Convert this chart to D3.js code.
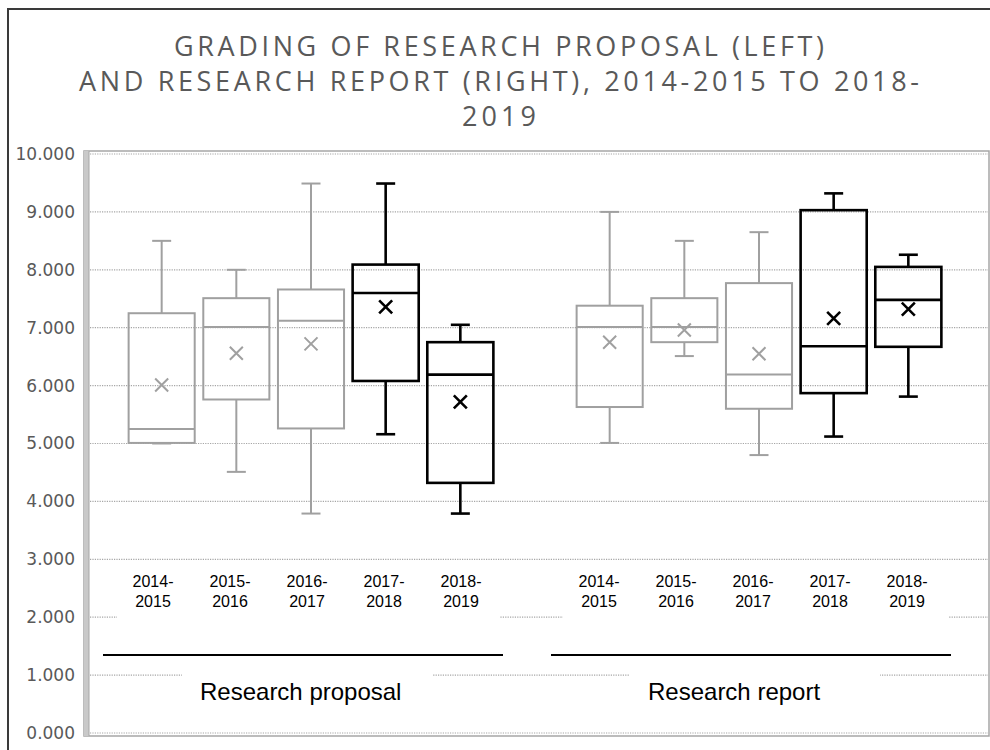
<!DOCTYPE html>
<html lang="en">
<head>
<meta charset="UTF-8">
<script src="https://d3js.org/d3.v7.min.js"></script>
<style>
body{
	margin: 0;
	background-color: white;
}
</style>
</head>
<body>
<svg width="990" height="750"></svg>
<script>
// ---- data ----
const years = ["2014-2015", "2015-2016", "2016-2017", "2017-2018", "2018-2019"];
const groups = ["Research proposal", "Research report"];
const highlighted = ["2017-2018", "2018-2019"];

const proposalMin    = [5.00, 4.51, 3.79, 5.16, 3.79];
const proposalQ1     = [5.01, 5.76, 5.26, 6.08, 4.32];
const proposalMedian = [5.25, 7.01, 7.12, 7.60, 6.19];
const proposalQ3     = [7.25, 7.51, 7.66, 8.09, 6.75];
const proposalMax    = [8.50, 8.00, 9.49, 9.49, 7.05];
const proposalMean   = [6.01, 6.56, 6.72, 7.36, 5.72];

const reportMin    = [5.01, 6.51, 4.80, 5.12, 5.81];
const reportQ1     = [5.63, 6.75, 5.60, 5.87, 6.67];
const reportMedian = [7.01, 7.01, 6.19, 6.68, 7.48];
const reportQ3     = [7.38, 7.51, 7.77, 9.03, 8.05];
const reportMax    = [9.00, 8.50, 8.65, 9.32, 8.26];
const reportMean   = [6.75, 6.96, 6.55, 7.16, 7.32];

const yTicks = [0, 1, 2, 3, 4, 5, 6, 7, 8, 9, 10];
const titleLines = ["GRADING OF RESEARCH PROPOSAL (LEFT)", "AND RESEARCH REPORT (RIGHT), 2014-2015 TO 2018-", "2019"];
const titleWidths = [650, 840, 74];

// build one row per box
let boxes = [];
years.forEach(function(yr, i) {
	boxes.push({key: "P|" + yr, year: yr, min: proposalMin[i], q1: proposalQ1[i], med: proposalMedian[i], q3: proposalQ3[i], max: proposalMax[i], mean: proposalMean[i]});
});
years.forEach(function(yr, i) {
	boxes.push({key: "R|" + yr, year: yr, min: reportMin[i], q1: reportQ1[i], med: reportMedian[i], q3: reportQ3[i], max: reportMax[i], mean: reportMean[i]});
});

const svg = d3.select("svg");

// outer chart border
svg.append("rect")
	.attr("x", 8).attr("y", 9)
	.attr("width", 1000).attr("height", 800)
	.attr("fill", "white")
	.attr("stroke", "#3a3a3a")
	.attr("stroke-width", 2);

// title
svg.append("g").selectAll("text")
	.data(titleLines)
	.join("text")
	.attr("x", 499)
	.attr("y", function(d, i) { return 56 + i * 35; })
	.attr("text-anchor", "middle")
	.attr("font-family", "'Open Sans', sans-serif")
	.attr("font-size", "27px")
	.attr("textLength", function(d, i) { return titleWidths[i]; })
	.attr("lengthAdjust", "spacing")
	.attr("fill", "#595959")
	.text(function(d) { return d; });

const plot = {left: 84, right: 989, top: 151, bottom: 736};

const domain = boxes.slice(0, 5).map(function(d) { return d.key; })
	.concat(["gap"])
	.concat(boxes.slice(5).map(function(d) { return d.key; }));

const x = d3.scalePoint()
	.domain(domain)
	.range([87, 983])
	.padding(1);

const y = d3.scaleLinear()
	.domain([0, 10])
	.range([733, 154]);

const boxW = x.step() * 0.885;
const capW = 19;

// plot frame
svg.append("rect")
	.attr("x", plot.left).attr("y", plot.top)
	.attr("width", plot.right - plot.left).attr("height", plot.bottom - plot.top)
	.attr("fill", "white")
	.attr("stroke", "#a6a6a6")
	.attr("stroke-width", 1.5);
svg.append("rect")
	.attr("x", plot.left).attr("y", plot.top)
	.attr("width", 5).attr("height", plot.bottom - plot.top)
	.attr("fill", "#c9c9c9");
svg.append("line")
	.attr("x1", plot.left + 5).attr("x2", plot.left + 5)
	.attr("y1", plot.top).attr("y2", plot.bottom)
	.attr("stroke", "#a6a6a6").attr("stroke-width", 1);

// gridlines
svg.append("g").selectAll("line")
	.data(yTicks)
	.join("line")
	.attr("x1", plot.left + 6).attr("x2", plot.right - 1)
	.attr("y1", function(d) { return y(d); })
	.attr("y2", function(d) { return y(d); })
	.attr("stroke", "#a6a6a6")
	.attr("stroke-width", 1.2)
	.attr("stroke-dasharray", "1.2,1.2");

// y axis labels
const yAxis = d3.axisLeft(y)
	.tickValues(yTicks)
	.tickSize(0)
	.tickPadding(0)
	.tickFormat(d3.format(".3f"));

svg.append("g")
	.attr("transform", "translate(75,0)")
	.call(yAxis)
	.call(function(g) { g.select(".domain").remove(); })
	.selectAll("text")
	.attr("font-family", "'DejaVu Sans', Verdana, sans-serif")
	.attr("font-size", "17px")
	.attr("fill", "#595959");

// boxes
function col(d) { return highlighted.indexOf(d.year) >= 0 ? "#000000" : "#a0a0a0"; }
function sw(d) { return highlighted.indexOf(d.year) >= 0 ? 2.6 : 2; }

const bx = svg.append("g").selectAll("g")
	.data(boxes)
	.join("g")
	.attr("transform", function(d) { return "translate(" + x(d.key) + ",0)"; });

bx.append("line")
	.attr("y1", function(d) { return y(d.max); })
	.attr("y2", function(d) { return y(d.q3); })
	.attr("stroke", col).attr("stroke-width", sw);
bx.append("line")
	.attr("y1", function(d) { return y(d.q1); })
	.attr("y2", function(d) { return y(d.min); })
	.attr("stroke", col).attr("stroke-width", sw);
bx.append("line")
	.attr("x1", -capW / 2).attr("x2", capW / 2)
	.attr("y1", function(d) { return y(d.max); })
	.attr("y2", function(d) { return y(d.max); })
	.attr("stroke", col).attr("stroke-width", sw);
bx.append("line")
	.attr("x1", -capW / 2).attr("x2", capW / 2)
	.attr("y1", function(d) { return y(d.min); })
	.attr("y2", function(d) { return y(d.min); })
	.attr("stroke", col).attr("stroke-width", sw);
bx.append("rect")
	.attr("x", -boxW / 2).attr("width", boxW)
	.attr("y", function(d) { return y(d.q3); })
	.attr("height", function(d) { return y(d.q1) - y(d.q3); })
	.attr("fill", "none")
	.attr("stroke", col).attr("stroke-width", sw);
bx.append("line")
	.attr("x1", -boxW / 2).attr("x2", boxW / 2)
	.attr("y1", function(d) { return y(d.med); })
	.attr("y2", function(d) { return y(d.med); })
	.attr("stroke", col).attr("stroke-width", sw);
bx.append("path")
	.attr("d", function(d) {
		let m = y(d.mean), r = 6.5;
		return "M" + (-r) + "," + (m - r) + "L" + r + "," + (m + r) + "M" + r + "," + (m - r) + "L" + (-r) + "," + (m + r);
	})
	.attr("stroke", col).attr("stroke-width", sw);

// category label text boxes (white background hides gridlines)
const labelBoxes = [
	{group: groups[0], x0: 117, x1: 500, gx0: 182, gx1: 432, rule0: 103, rule1: 503},
	{group: groups[1], x0: 563, x1: 948, gx0: 630, gx1: 880, rule0: 551, rule1: 951}
];

const lb = svg.append("g").selectAll("g")
	.data(labelBoxes)
	.join("g");

lb.append("rect")
	.attr("x", function(d) { return d.x0; })
	.attr("width", function(d) { return d.x1 - d.x0; })
	.attr("y", 565).attr("height", 62)
	.attr("fill", "white");

lb.append("rect")
	.attr("x", function(d) { return d.gx0; })
	.attr("width", function(d) { return d.gx1 - d.gx0; })
	.attr("y", 664).attr("height", 56)
	.attr("fill", "white");

lb.append("line")
	.attr("x1", function(d) { return d.rule0; })
	.attr("x2", function(d) { return d.rule1; })
	.attr("y1", 655).attr("y2", 655)
	.attr("stroke", "black")
	.attr("stroke-width", 2);

lb.append("text")
	.attr("x", function(d) { return d.rule0 + 97; })
	.attr("y", 700)
	.attr("text-anchor", "start")
	.attr("font-family", "'Liberation Sans', Arial, sans-serif")
	.attr("font-size", "24px")
	.attr("fill", "black")
	.text(function(d) { return d.group; });

lb.each(function(g) {
	let t = d3.select(this).selectAll(".cat")
		.data(years)
		.join("text")
		.attr("class", "cat")
		.attr("x", function(d, i) { return g.x0 + 36 + i * 77; })
		.attr("y", 587)
		.attr("text-anchor", "middle")
		.attr("font-family", "'Liberation Sans', Arial, sans-serif")
		.attr("font-size", "16px")
		.attr("fill", "black");
	t.append("tspan")
		.attr("x", function(d, i) { return g.x0 + 36 + i * 77; })
		.text(function(d) { return d.split("-")[0] + "-"; });
	t.append("tspan")
		.attr("x", function(d, i) { return g.x0 + 36 + i * 77; })
		.attr("dy", 20)
		.text(function(d) { return d.split("-")[1]; });
});
</script>
</body>
</html>
